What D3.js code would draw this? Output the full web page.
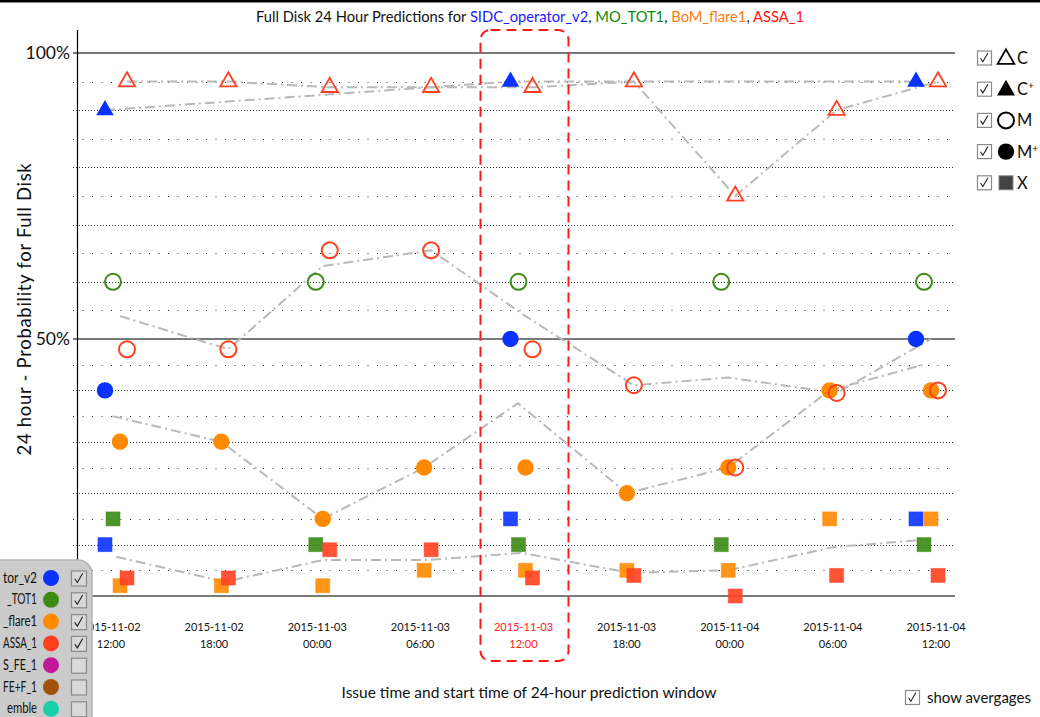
<!DOCTYPE html>
<html><head><meta charset="utf-8">
<script src="https://cdn.jsdelivr.net/npm/d3@7"></script>
<style>body{margin:0;background:#fff;} svg{display:block;font-family:Lato, sans-serif;}</style>
</head><body>
<script>
// ---------- DATA ----------
const timeDates = ["2015-11-02","2015-11-02","2015-11-03","2015-11-03","2015-11-03","2015-11-03","2015-11-04","2015-11-04","2015-11-04"];
const timeHours = ["12:00","18:00","00:00","06:00","12:00","18:00","00:00","06:00","12:00"];
const highlightIndex = 4;

const seriesNames = ["SIDC_operator_v2","MO_TOT1","BoM_flare1","ASSA_1"];
const seriesColors = ["#0a32ff","#3a8a14","#ff8a00","#ff4020"];
const titleColors = ["#1a1aff","#0a8a0a","#ff7a10","#ff1010"];
const categories = ["C","C+","M","M+","X"];

// values in percent (null = no prediction)
const sidcCplus = [90,null,null,null,95,null,null,null,95];
const sidcMplus = [40,null,null,null,50,null,null,null,50];
const sidcX     = [10,null,null,null,15,null,null,null,15];

const moM = [60,null,60,null,60,null,60,null,60];
const moX = [15,null,10,null,10,null,10,null,10];

const bomMplus = [30,30,15,25,25,20,25,40,40];
const bomX     = [2,2,2,5,5,5,5,15,15];

const assaC = [95,95,94,94,94,95,75,90,95];
const assaM = [48,48,65.5,65.5,48,41,25,39.5,40];
const assaX = [3.5,3.5,9,9,3.5,4,0,4,4];

const ySolid = [0,50,100];
const yTickLabels = [50,100];
const yGrid = [5,10,15,20,25,30,35,40,45,55,60,65,70,75,80,85,90,95];

// visible (window-clipped) part of the model list panel
const panelLabels = ["tor_v2","_TOT1","_flare1","ASSA_1","S_FE_1","FE+F_1","emble"];
const panelColors = ["#0a32ff","#3a8a14","#ff8a00","#ff4020","#c0189c","#a0520a","#1ad0a8"];
const panelChecked = [true,true,true,true,false,false,false];

// ---------- TABLE ----------
const table = {
  "C":  [null,null,null,assaC],
  "C+": [sidcCplus,null,null,null],
  "M":  [null,moM,null,assaM],
  "M+": [sidcMplus,null,bomMplus,null],
  "X":  [sidcX,moX,bomX,assaX]
};
const seriesOffset = [-11,-3,4,11];

// ---------- SETUP ----------
const W = 1040, H = 717;
const svg = d3.select("body").append("svg").attr("width",W).attr("height",H);
const idx = d3.range(timeDates.length);

const y = d3.scaleLinear().domain([0,50,100]).range([596,339,53]);
const xLabel = d3.scalePoint().domain(idx).range([111,936]);
const xMark = d3.scalePoint().domain(idx).range([116,927]);

// top bar
svg.append("rect").attr("x",0).attr("y",0).attr("width",W).attr("height",2.5).attr("fill","#000");

// grid
const gridG = svg.append("g");
gridG.selectAll("line.grid").data(yGrid).join("line")
  .attr("x1",73).attr("x2",955)
  .attr("y1",d=>Math.round(y(d))+0.5).attr("y2",d=>Math.round(y(d))+0.5)
  .attr("stroke","#333").attr("stroke-width",1)
  .attr("stroke-dasharray",d=> d%10===0 ? "1,2" : "1,8.5");
gridG.selectAll("line.solid").data(ySolid).join("line")
  .attr("x1",73).attr("x2",955)
  .attr("y1",d=>y(d)).attr("y2",d=>y(d))
  .attr("stroke","#7a7a7a").attr("stroke-width",2);
// y axis line
svg.append("line").attr("x1",77.5).attr("x2",77.5).attr("y1",30).attr("y2",600)
  .attr("stroke","#000").attr("stroke-width",1.2);
// y tick labels
svg.selectAll("text.ytick").data(yTickLabels).join("text")
  .attr("x",70).attr("y",d=>y(d)+6).attr("text-anchor","end")
  .attr("font-size",17.5).attr("fill","#111").text(d=>d+"%");

// ---------- AVERAGE LINES ----------
const lineGen = d3.line().defined(d=>d!==null).x(d=>d.x).y(d=>y(d.v));
categories.forEach(cat=>{
  const cols = table[cat];
  const pts = idx.map(i=>{
    const xs=[], vs=[];
    cols.forEach((arr,s)=>{ if(arr && arr[i]!==null){ xs.push(xMark(i)+seriesOffset[s]); vs.push(arr[i]); } });
    if(!xs.length) return null;
    return {x:d3.mean(xs), v:d3.mean(vs)};
  }).filter(d=>d!==null);
  svg.append("path").attr("d",lineGen(pts)).attr("fill","none")
    .attr("stroke","#b9b9b9").attr("stroke-width",2)
    .attr("stroke-dasharray","10,4,2,4");
});

// ---------- MARKERS ----------
const markG = svg.append("g");
function drawSymbol(g, cat, cx, cy, color, legend){
  if(cat==="C"){
    g.append("path").attr("d",d3.symbol().type(d3.symbolTriangle).size(legend?120:115)())
      .attr("transform",`translate(${cx},${cy})`).attr("fill","none").attr("stroke",color).attr("stroke-width",1.8);
  } else if(cat==="C+"){
    g.append("path").attr("d",d3.symbol().type(d3.symbolTriangle).size(legend?140:135)())
      .attr("transform",`translate(${cx},${cy})`).attr("fill",color);
  } else if(cat==="M"){
    g.append("circle").attr("cx",cx).attr("cy",cy).attr("r",8).attr("fill","none").attr("stroke",color).attr("stroke-width",2);
  } else if(cat==="M+"){
    g.append("circle").attr("cx",cx).attr("cy",cy).attr("r",8.2).attr("fill",color);
  } else {
    g.append("rect").attr("x",cx-7).attr("y",cy-7).attr("width",14).attr("height",14)
      .attr("fill",color).attr("fill-opacity",legend?1:0.9).attr("stroke",legend?"#888":color).attr("stroke-opacity",legend?1:0.5).attr("stroke-width",1);
  }
}
seriesNames.forEach((name,s)=>{
  categories.forEach(cat=>{
    const arr = table[cat][s];
    if(!arr) return;
    arr.forEach((v,i)=>{
      if(v===null) return;
      drawSymbol(markG, cat, xMark(i)+seriesOffset[s], y(v), seriesColors[s], false);
    });
  });
});

// ---------- X LABELS ----------
const xl = svg.append("g");
idx.forEach(i=>{
  const col = i===highlightIndex ? "#ff2020" : "#111";
  const t = xl.append("text").attr("x",xLabel(i)).attr("text-anchor","middle").attr("font-size",11).attr("fill",col);
  t.append("tspan").attr("x",xLabel(i)).attr("y",631).text(timeDates[i]);
  t.append("tspan").attr("x",xLabel(i)).attr("y",648).text(timeHours[i]);
});

// highlight box
svg.append("rect").attr("x",xLabel(highlightIndex)-43).attr("y",30).attr("width",88).attr("height",631)
  .attr("rx",10).attr("fill","none").attr("stroke","#ff1a1a").attr("stroke-width",2)
  .attr("stroke-dasharray","10,6");

// ---------- TITLES ----------
const title = svg.append("text").attr("x",530).attr("y",22).attr("text-anchor","middle").attr("font-size",14.7);
const titleParts = [["Full Disk 24 Hour Predictions for ","#111"]];
seriesNames.forEach((n,s)=>{ titleParts.push([n,titleColors[s]]); if(s<seriesNames.length-1) titleParts.push([", ","#111"]); });
titleParts.forEach(p=> title.append("tspan").attr("fill",p[1]).text(p[0]));

svg.append("text").attr("transform","translate(31,309) rotate(-90)").attr("text-anchor","middle")
  .attr("font-size",18.5).attr("letter-spacing",0.7).attr("fill","#111").text("24 hour - Probability for Full Disk");
svg.append("text").attr("x",529).attr("y",698).attr("text-anchor","middle")
  .attr("font-size",15.5).attr("fill","#111").text("Issue time and start time of 24-hour prediction window");

// ---------- CHECKBOX helper ----------
function checkbox(g, x, yy, size, checked, fill){
  g.append("rect").attr("x",x+0.5).attr("y",yy+0.5).attr("width",size).attr("height",size)
    .attr("fill",fill).attr("stroke","#8a8a8a").attr("stroke-width",1.2);
  if(checked){
    g.append("path").attr("d",`M${x+size*0.25},${yy+size*0.55} L${x+size*0.42},${yy+size*0.8} L${x+size*0.78},${yy+size*0.18}`)
      .attr("fill","none").attr("stroke","#222").attr("stroke-width",1.1);
  }
}

// ---------- RIGHT LEGEND ----------
const rl = svg.append("g");
const legendLabels = [["C",""],["C","+"],["M",""],["M","+"],["X",""]];
categories.forEach((cat,k)=>{
  const cy = 58 + k*31.2;
  checkbox(rl, 977, cy-7.5, 14, true, "#fff");
  drawSymbol(rl, cat, 1006, cat==="C"||cat==="C+" ? cy+1 : cy, cat==="X"?"#444":"#000", true);
  const t = rl.append("text").attr("x",1017).attr("y",cy+6).attr("font-size",16.5).attr("fill","#111");
  t.append("tspan").text(legendLabels[k][0]);
  if(legendLabels[k][1]) t.append("tspan").attr("dy",-6).attr("font-size",10).text(legendLabels[k][1]);
});

// ---------- LEFT PANEL ----------
const pl = svg.append("g");
pl.append("rect").attr("x",-20).attr("y",560).attr("width",112).attr("height",200).attr("rx",14)
  .attr("fill","#cbcbcb").attr("stroke","#b5b5b5").attr("stroke-width",1.5);
panelLabels.forEach((n,k)=>{
  const cy = 578 + k*21.8;
  const tl = n.length<=5 ? 30 : 34;
  pl.append("text").attr("x",37-tl).attr("y",cy+4.5).attr("font-size",14.5).attr("fill","#111")
    .attr("textLength",tl).attr("lengthAdjust","spacingAndGlyphs").text(n);
  pl.append("circle").attr("cx",51).attr("cy",cy).attr("r",8).attr("fill",panelColors[k]);
  checkbox(pl, 71, cy-7.5, 15, panelChecked[k], "#d9d9d9");
});

// ---------- SHOW AVERAGES ----------
const sa = svg.append("g");
checkbox(sa, 905, 690, 14, true, "#fff");
sa.append("text").attr("x",927).attr("y",703).attr("font-size",15).attr("fill","#111").text("show avergages");
</script>
</body></html>
